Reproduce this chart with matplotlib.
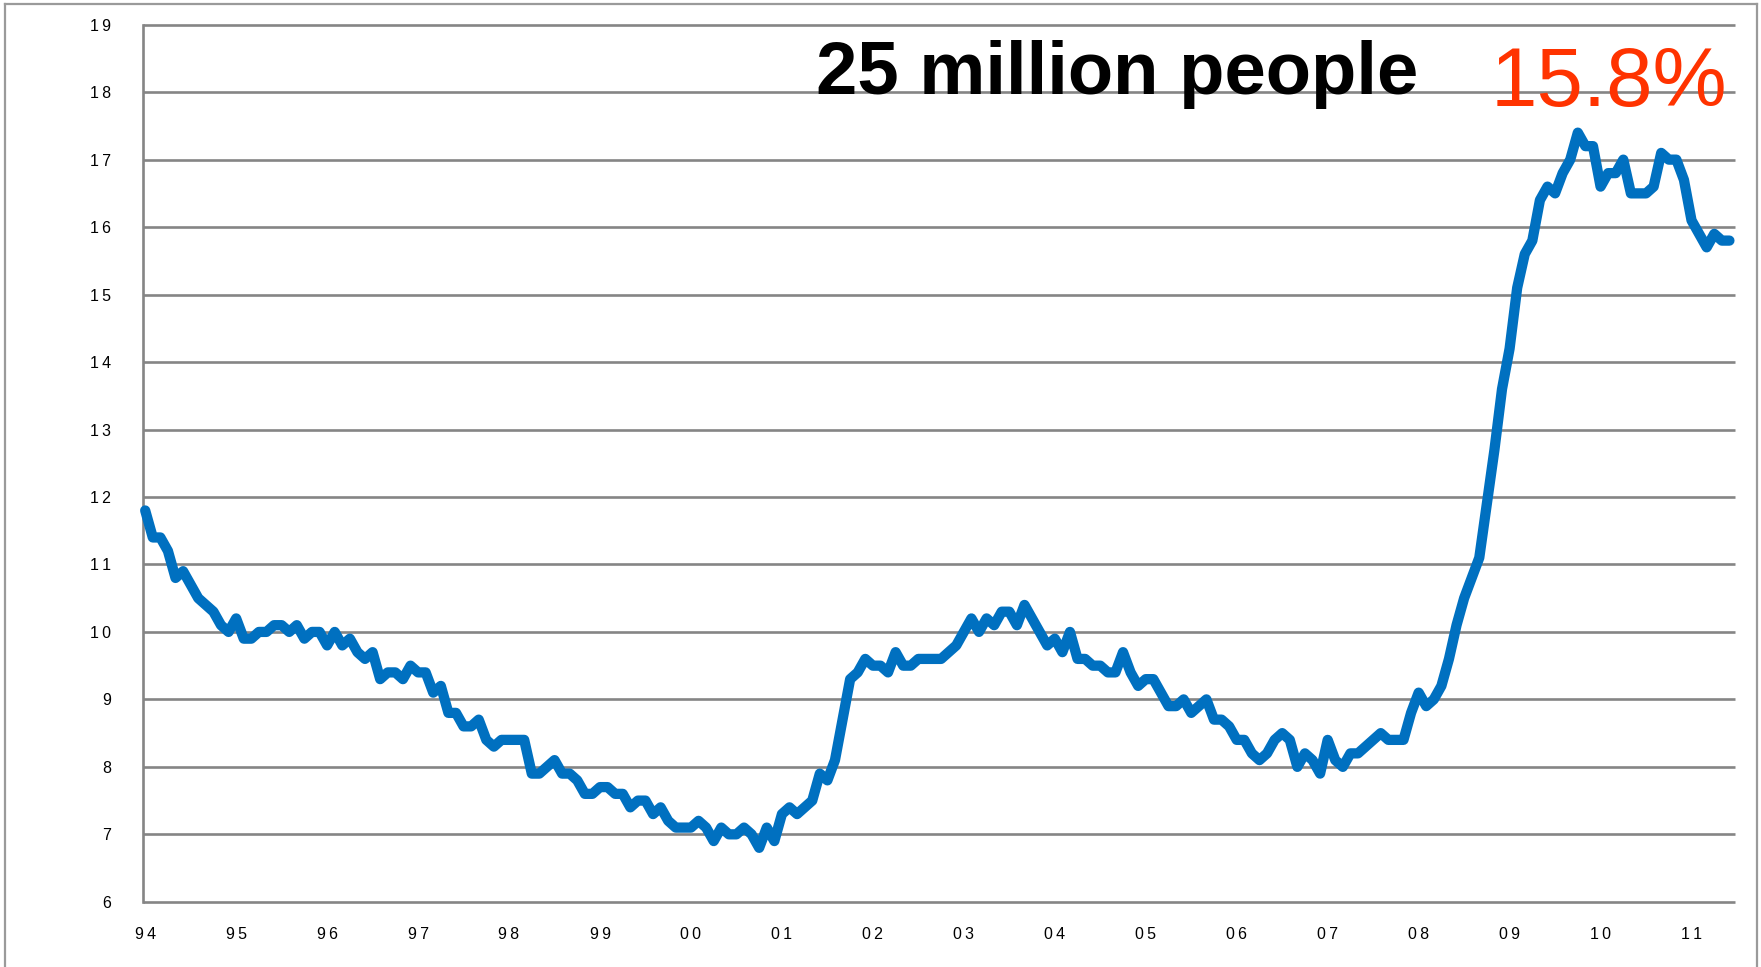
import numpy as np
import matplotlib
matplotlib.use("Agg")
import matplotlib.pyplot as plt
from matplotlib.lines import Line2D

# Monthly rate (%), January of each year onward
rate_1994 = [11.8, 11.4, 11.4, 11.2, 10.8, 10.9, 10.7, 10.5, 10.4, 10.3, 10.1, 10.0]
rate_1995 = [10.2, 9.9, 9.9, 10.0, 10.0, 10.1, 10.1, 10.0, 10.1, 9.9, 10.0, 10.0]
rate_1996 = [9.8, 10.0, 9.8, 9.9, 9.7, 9.6, 9.7, 9.3, 9.4, 9.4, 9.3, 9.5]
rate_1997 = [9.4, 9.4, 9.1, 9.2, 8.8, 8.8, 8.6, 8.6, 8.7, 8.4, 8.3, 8.4]
rate_1998 = [8.4, 8.4, 8.4, 7.9, 7.9, 8.0, 8.1, 7.9, 7.9, 7.8, 7.6, 7.6]
rate_1999 = [7.7, 7.7, 7.6, 7.6, 7.4, 7.5, 7.5, 7.3, 7.4, 7.2, 7.1, 7.1]
rate_2000 = [7.1, 7.2, 7.1, 6.9, 7.1, 7.0, 7.0, 7.1, 7.0, 6.8, 7.1, 6.9]
rate_2001 = [7.3, 7.4, 7.3, 7.4, 7.5, 7.9, 7.8, 8.1, 8.7, 9.3, 9.4, 9.6]
rate_2002 = [9.5, 9.5, 9.4, 9.7, 9.5, 9.5, 9.6, 9.6, 9.6, 9.6, 9.7, 9.8]
rate_2003 = [10.0, 10.2, 10.0, 10.2, 10.1, 10.3, 10.3, 10.1, 10.4, 10.2, 10.0, 9.8]
rate_2004 = [9.9, 9.7, 10.0, 9.6, 9.6, 9.5, 9.5, 9.4, 9.4, 9.7, 9.4, 9.2]
rate_2005 = [9.3, 9.3, 9.1, 8.9, 8.9, 9.0, 8.8, 8.9, 9.0, 8.7, 8.7, 8.6]
rate_2006 = [8.4, 8.4, 8.2, 8.1, 8.2, 8.4, 8.5, 8.4, 8.0, 8.2, 8.1, 7.9]
rate_2007 = [8.4, 8.1, 8.0, 8.2, 8.2, 8.3, 8.4, 8.5, 8.4, 8.4, 8.4, 8.8]
rate_2008 = [9.1, 8.9, 9.0, 9.2, 9.6, 10.1, 10.5, 10.8, 11.1, 11.9, 12.7, 13.6]
rate_2009 = [14.2, 15.1, 15.6, 15.8, 16.4, 16.6, 16.5, 16.8, 17.0, 17.4, 17.2, 17.2]
rate_2010 = [16.6, 16.8, 16.8, 17.0, 16.5, 16.5, 16.5, 16.6, 17.1, 17.0, 17.0, 16.7]
rate_2011 = [16.1, 15.9, 15.7, 15.9, 15.8, 15.8]

year_labels = ["94", "95", "96", "97", "98", "99", "00", "01", "02",
               "03", "04", "05", "06", "07", "08", "09", "10", "11"]
y_ticks = list(range(6, 20))

headline = "25 million people"
latest = "15.8%"

rates = np.array(rate_1994 + rate_1995 + rate_1996 + rate_1997 + rate_1998 +
                 rate_1999 + rate_2000 + rate_2001 + rate_2002 + rate_2003 +
                 rate_2004 + rate_2005 + rate_2006 + rate_2007 + rate_2008 +
                 rate_2009 + rate_2010 + rate_2011)
months = np.arange(len(rates))

W, H, DPI = 1761, 967, 100
FONT = ["Liberation Sans", "DejaVu Sans"]
GRID = "#858585"

fig = plt.figure(figsize=(W / DPI, H / DPI), dpi=DPI)
fig.patch.set_facecolor("white")

# plot area in pixels
left, right, top, bottom = 142.6, 1735.0, 24.7, 901.8
px_per_month = 7.58
ax = fig.add_axes([left / W, 1 - bottom / H, (right - left) / W, (bottom - top) / H])
x0 = -(145.2 - left) / px_per_month
ax.set_xlim(x0, x0 + (right - left) / px_per_month)
ax.set_ylim(6, 19)

for s in ("top", "right", "bottom"):
    ax.spines[s].set_visible(False)
ax.spines["left"].set_color(GRID)
ax.spines["left"].set_linewidth(1.9)

# horizontal gridlines, including the ones on the frame edges
ax.hlines(y_ticks, x0, x0 + (right - left) / px_per_month, colors=GRID,
          linewidth=1.9, clip_on=False, zorder=1)

ax.plot(months, rates, color="#0070C0", linewidth=7.4,
        solid_joinstyle="round", solid_capstyle="round", clip_on=False, zorder=3)

ax.set_yticks(y_ticks)
ax.set_yticklabels(["\u2009".join(str(v)) for v in y_ticks], family=FONT, fontsize=11.5)
ax.set_xticks(np.arange(len(year_labels)) * 12)
ax.set_xticklabels(["\u2009".join(lbl) for lbl in year_labels], family=FONT, fontsize=11.5)
ax.tick_params(axis="both", length=0, colors="black")
ax.tick_params(axis="y", pad=22.5)
ax.tick_params(axis="x", pad=18)

fig.text(816 / W, 1 - 94.3 / H, headline, fontsize=53.5, fontweight="bold",
         family=FONT, color="black", ha="left", va="baseline")
fig.text(1491 / W, 1 - 105.8 / H, latest, fontsize=60, family=FONT,
         color="#FF3300", ha="left", va="baseline")

# outer chart frame
frame_kw = dict(color="#9a9a9a", linewidth=1.6, transform=fig.transFigure)
fx0, fx1, fy = 5 / W, 1757 / W, 1 - 4 / H
fig.add_artist(Line2D([fx0, fx0], [0, fy], **frame_kw))
fig.add_artist(Line2D([fx0, fx1], [fy, fy], **frame_kw))
fig.add_artist(Line2D([fx1, fx1], [0, fy], **frame_kw))

fig.savefig("out.png", dpi=DPI, facecolor="white")
